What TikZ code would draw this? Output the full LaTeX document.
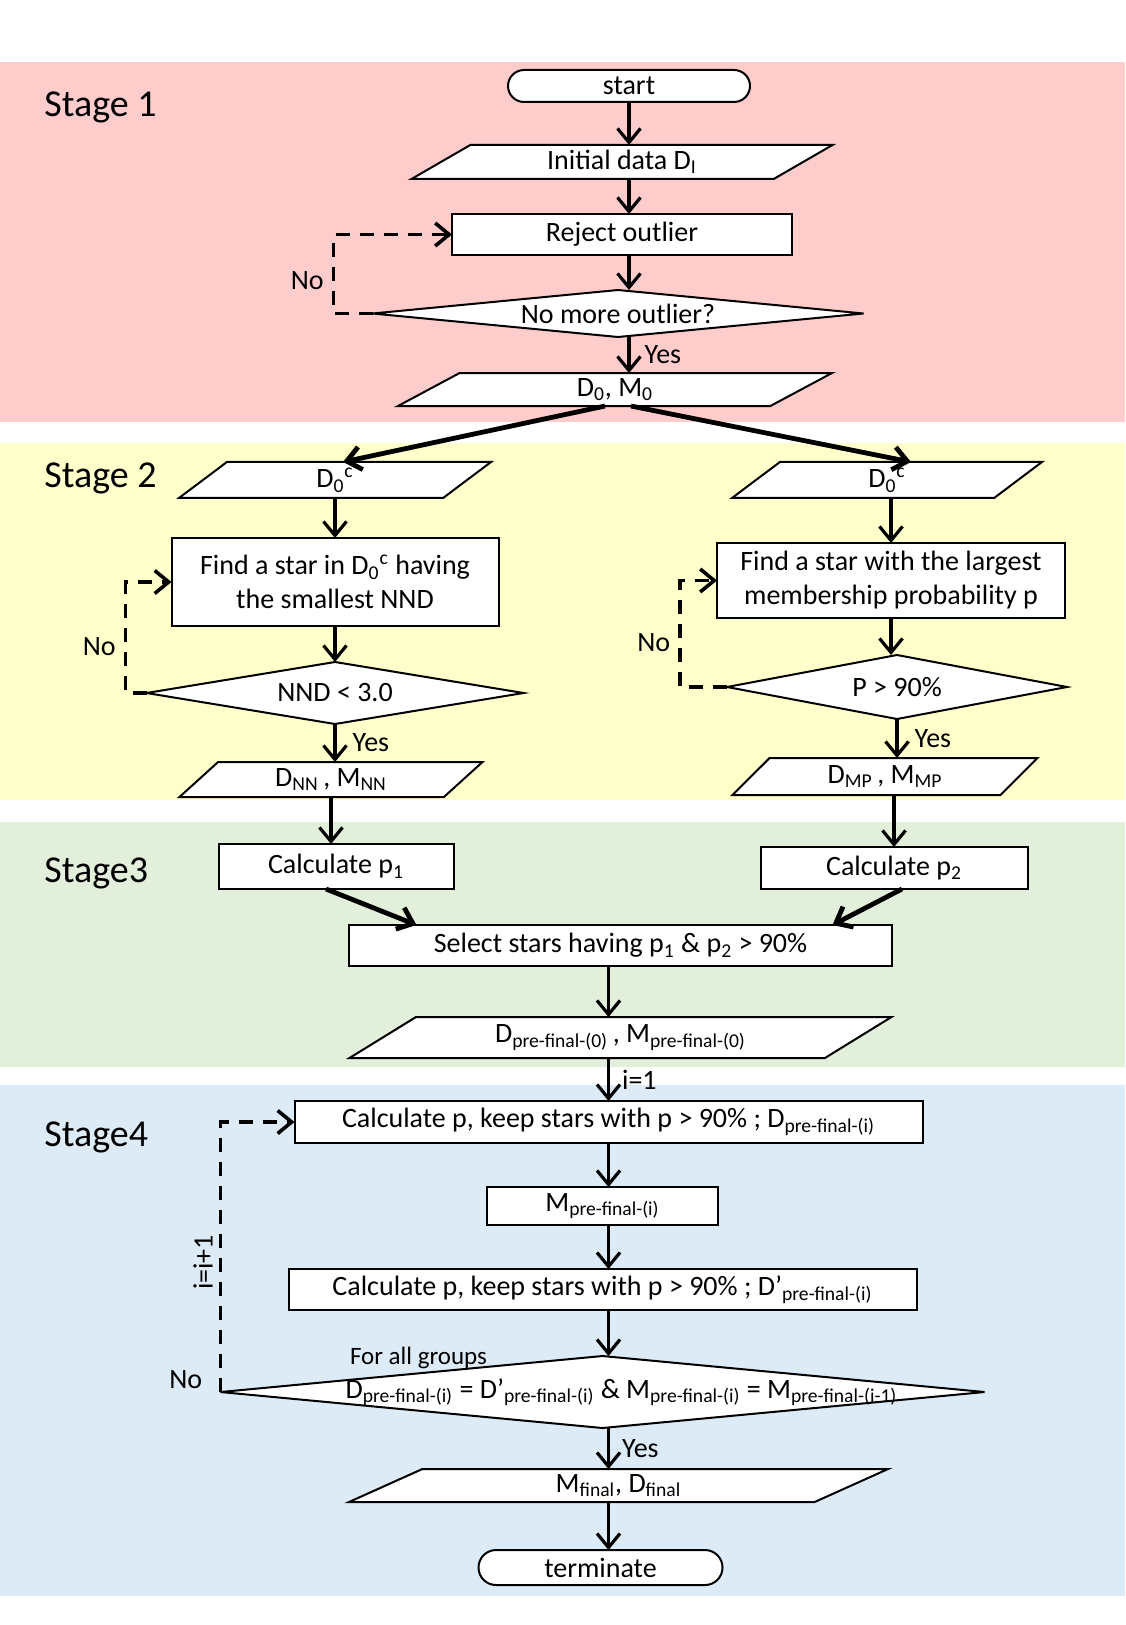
\documentclass[tikz,border=0pt]{standalone}
\usepackage{fontspec}
\setmainfont{Carlito}
\usetikzlibrary{shapes.geometric, shapes.misc, arrows.meta, positioning}
\definecolor{cPink}{HTML}{FFCCCC}
\definecolor{cYellow}{HTML}{FFFFCC}
\definecolor{cGreen}{HTML}{E2EFDA}
\definecolor{cBlue}{HTML}{DDEBF7}
\newcommand{\sbs}[1]{\textsubscript{#1}}
\newcommand{\sps}[1]{\textsuperscript{#1}}
\tikzset{
  base/.style={
    draw=black, line width=1pt, fill=white, inner sep=0pt, outer sep=0pt,
    font=\fontsize{14pt}{17pt}\selectfont
  },
  procbox/.style={base, rectangle, align=center},
  endbox/.style={base, rounded rectangle},
  databox/.style={base, trapezium, trapezium stretches body,
    trapezium left angle=#1, trapezium right angle=180-#1},
  decbox/.style={base, diamond, aspect=6},
  arrow/.style={-{Straight Barb[length=7pt, width=11.5pt]}, line width=1.6pt},
  bigarrow/.style={arrow, line width=2.4pt},
  backarrow/.style={arrow, line width=1.8pt, dash pattern=on 7pt off 5pt},
  lbl/.style={font=\fontsize{14pt}{17pt}\selectfont, inner sep=4pt},
  condtxt/.style={font=\fontsize{14pt}{17pt}\selectfont, inner sep=0pt},
  grptxt/.style={font=\fontsize{12.5pt}{15pt}\selectfont, inner sep=0pt},
  stagelbl/.style={anchor=base west, inner sep=0pt,
    font=\fontsize{19pt}{22pt}\selectfont},
}
\begin{document}
\begin{tikzpicture}[x=0.5pt, y=-0.5pt]
  \useasboundingbox (0,0) rectangle (1125,1625);
  \fill[white] (0,0) rectangle (1125,1625);

  % Stage bands
  \fill[cPink]   (0,62)   rectangle (1125,422);
  \fill[cYellow] (0,443)  rectangle (1125,800);
  \fill[cGreen]  (0,822)  rectangle (1125,1067);
  \fill[cBlue]   (0,1085) rectangle (1125,1596);

  \node[stagelbl] (s1) at (44,117)  {Stage 1};
  \node[stagelbl] (s2) at (44,488)  {Stage 2};
  \node[stagelbl] (s3) at (44,882)  {Stage3};
  \node[stagelbl] (s4) at (44,1146) {Stage4};

  % Stage 1
  \node[endbox, minimum width=121pt, minimum height=16pt] (start) at (629,86) {start};
  \node[databox=22, minimum width=210.5pt, minimum height=17pt,
        below=21.5pt of start, xshift=-3.5pt] (init) {Initial data D\sbs{I}};
  \node[procbox, minimum width=170pt, minimum height=20.5pt,
        below=17.5pt of init] (reject) {Reject outlier};
  \node[decbox, aspect=10.4, minimum width=245.5pt, minimum height=23.5pt,
        below=17.5pt of reject, xshift=-2pt] (outq) {No more outlier?};
  \node[databox=20, minimum width=217pt, minimum height=16.5pt,
        below=18pt of outq, xshift=-1.5pt] (dm) {D\sbs{0}, M\sbs{0}};

  % Stage 2, left branch
  \node[databox=27, minimum width=156pt, minimum height=18pt] (d0cl) at (335,480) {D\sbs{0}\sps{c}};
  \node[procbox, minimum width=163.5pt, minimum height=44pt,
        below=20pt of d0cl] (findl) {Find a star in D\sbs{0}\sps{c} having\\the smallest NND};
  \node[decbox, minimum width=188.5pt, minimum height=31pt,
        below=18pt of findl] (nnd) {NND < 3.0};
  \node[databox=30, minimum width=151.5pt, minimum height=17.5pt,
        below=19pt of nnd, xshift=-2pt] (dnn) {D\sbs{NN}\,, M\sbs{NN}};
  \node[procbox, minimum width=117.5pt, minimum height=22.5pt,
        below=23.5pt of dnn, xshift=2.5pt] (p1) {Calculate p\sbs{1}};

  % Stage 2, right branch
  \node[databox=27, minimum width=155pt, minimum height=18pt] (d0cr) at (887,480) {D\sbs{0}\sps{c}};
  \node[procbox, minimum width=174pt, minimum height=37.5pt,
        below=22.5pt of d0cr, xshift=2pt] (findr) {Find a star with the largest\\membership probability p};
  \node[decbox, minimum width=170pt, minimum height=32pt,
        below=18.5pt of findr, xshift=3pt] (pq) {P > 90\%};
  \node[databox=31, minimum width=152.5pt, minimum height=18.5pt,
        below=19.5pt of pq, xshift=-6pt] (dmp) {D\sbs{MP}\,, M\sbs{MP}};
  \node[procbox, minimum width=133.5pt, minimum height=21pt,
        below=26pt of dmp, xshift=4.5pt] (p2) {Calculate p\sbs{2}};

  % Stage 3
  \node[procbox, minimum width=271.5pt, minimum height=20.5pt] (sel) at (620.5,945.5)
        {Select stars having p\sbs{1} \& p\sbs{2} > 90\%};
  \node[databox=21, minimum width=271pt, minimum height=20.5pt,
        below=25.5pt of sel] (dpre0) {D\sbs{pre-final-(0)}\,, M\sbs{pre-final-(0)}};

  % Stage 4
  \node[procbox, minimum width=314pt, minimum height=21pt,
        below=21.5pt of dpre0, xshift=-6pt] (calcA)
        {Calculate p, keep stars with p > 90\% ; D\sbs{pre-final-(i)}};
  \node[procbox, minimum width=115.5pt, minimum height=19pt,
        below=22pt of calcA, xshift=-3pt] (mpre) {M\sbs{pre-final-(i)}};
  \node[procbox, minimum width=314pt, minimum height=20.5pt,
        below=22pt of mpre] (calcB)
        {Calculate p, keep stars with p > 90\% ; D'\sbs{pre-final-(i)}};
  \node[decbox, minimum width=382pt, minimum height=36pt,
        below=23pt of calcB] (cond) {};
  \node[condtxt] (condlbl) at ([xshift=9.5pt]cond.center)
        {D\sbs{pre-final-(i)} = D'\sbs{pre-final-(i)} \& M\sbs{pre-final-(i)} = M\sbs{pre-final-(i-1)}};
  \node[grptxt] (grp) at ([xshift=-92pt, yshift=17pt]cond.center) {For all groups};
  \node[databox=17, minimum width=269.5pt, minimum height=16.5pt,
        below=20.5pt of cond, xshift=8pt] (mfin) {M\sbs{final}, D\sbs{final}};
  \node[endbox, minimum width=122pt, minimum height=17.5pt,
        below=24pt of mfin, xshift=-9pt] (term) {terminate};

  % Arrows, stage 1
  \draw[arrow] (start.south) -- (start.south |- init.north);
  \draw[arrow] (start.south |- init.south) -- (start.south |- reject.north);
  \draw[arrow] (start.south |- reject.south) -- (start.south |- outq.north);
  \draw[arrow] (start.south |- outq.south) -- node[lbl, right=3pt] {Yes} (start.south |- dm.north);
  \draw[backarrow] (outq.west) -- ++(-39,0) |- node[lbl, pos=0.21, left] {No} (reject.west);
  \draw[bigarrow] ([xshift=-5pt]dm.south) -- ([xshift=4pt]d0cl.north);
  \draw[bigarrow] ([xshift=8pt]dm.south) -- ([xshift=12pt]d0cr.north);

  % Arrows, stage 2
  \draw[arrow] (findl.north |- d0cl.south) -- (findl.north);
  \draw[arrow] (findl.south) -- (findl.south |- nnd.north);
  \draw[arrow] (nnd.south) -- node[lbl, right=4pt] {Yes} (nnd.south |- dnn.north);
  \draw[arrow] (dnn.south) -- (dnn.south |- p1.north);
  \draw[backarrow] (nnd.west) -- ++(-21,0) |- node[lbl, pos=0.21, left] {No} (findl.west);

  \draw[arrow] (findr.north |- d0cr.south) -- (findr.north);
  \draw[arrow] (findr.south) -- (findr.south |- pq.north);
  \draw[arrow] (pq.south) -- node[lbl, right=4pt] {Yes} (pq.south |- dmp.north);
  \draw[arrow] (p2.north |- dmp.south) -- (p2.north);
  \draw[backarrow] (pq.west) -- ++(-47,0) |- node[lbl, pos=0.21, left] {No} (findr.west);

  % Arrows, stage 3
  \draw[bigarrow] ([xshift=-5pt]p1.south) -- ([xshift=-102pt]sel.north);
  \draw[bigarrow] ([xshift=4pt]p2.south) -- ([xshift=106pt]sel.north);
  \draw[arrow] (calcA.north |- sel.south) -- (calcA.north |- dpre0.north);

  % Arrows, stage 4
  \draw[arrow] (calcA.north |- dpre0.south) -- node[lbl, right=2pt] {i=1} (calcA.north);
  \draw[arrow] (calcA.south) -- (calcA.south |- mpre.north);
  \draw[arrow] (calcA.south |- mpre.south) -- (calcA.south |- calcB.north);
  \draw[arrow] (calcA.south |- calcB.south) -- (calcA.south |- cond.north);
  \draw[arrow] (calcA.south |- cond.south) -- node[lbl, right=2pt] {Yes} (calcA.south |- mfin.north);
  \draw[arrow] (calcA.south |- mfin.south) -- (calcA.south |- term.north);
  \draw[backarrow] (cond.west) |- node[lbl, pos=0.24, rotate=90, anchor=south, inner sep=3pt] {i=i+1} (calcA.west);
  \node[lbl, left=5pt of cond.west, yshift=6pt] (no4) {No};

\end{tikzpicture}
\end{document}
